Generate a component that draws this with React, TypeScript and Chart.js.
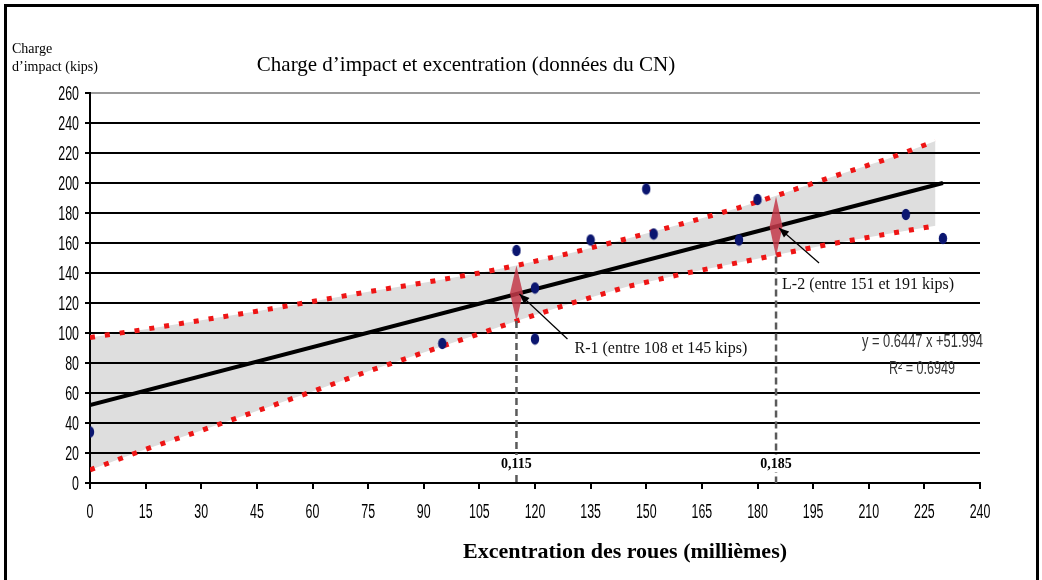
import { useEffect, useRef } from 'react';
import { Chart, registerables } from 'chart.js';

Chart.register(...registerables);

// ---- data ----
const pointsX = [0, 95, 115, 120, 120, 135, 150, 152, 175, 180, 220, 230];
const pointsY = [34, 93, 155, 130, 96, 162, 196, 166, 162, 189, 179, 163];

const trendX = [0, 230];
const trendY = [52, 200];

const bandX = [0, 15, 30, 45, 60, 75, 90, 105, 115, 130, 145, 160, 175, 185, 200, 215, 228];
const bandUpper = [97, 102.5, 108.5, 114.5, 121, 127.5, 133.5, 140, 145, 153.5, 163, 173, 183.5, 191.5, 204, 216, 228];
const bandLower = [8.7, 22.5, 35, 48, 61, 74.5, 87, 99.5, 108, 120, 131, 139.5, 147, 152, 159.5, 166, 171.5];

const markX = [115, 185];
const markLow = [108, 151];
const markHigh = [145, 191];
const markMid = [126, 170];
const markLabels = ['0,115', '0,185'];
const markNotes = ['R-1 (entre 108 et 145 kips)', 'L-2 (entre 151 et 191 kips)'];

const xTicks = [0, 15, 30, 45, 60, 75, 90, 105, 120, 135, 150, 165, 180, 195, 210, 225, 240];
const yTicks = [0, 20, 40, 60, 80, 100, 120, 140, 160, 180, 200, 220, 240, 260];

const titleText = 'Charge d\u2019impact et excentration (donn\u00e9es du CN)';
const yTitleLines = ['Charge', 'd\u2019impact (kips)'];
const xTitleText = 'Excentration des roues (milli\u00e8mes)';
const eqText = 'y = 0.6447 x +51.994';
const r2Text = 'R\u00b2 = 0.6949';

const SERIF = '"Liberation Serif", "Times New Roman", serif';
const SANS = '"Liberation Sans", Arial, sans-serif';

export default function App() {
  const ref = useRef<HTMLCanvasElement>(null);

  useEffect(() => {
    const canvas = ref.current;
    if (!canvas) return;

    const dot = document.createElement('canvas');
    dot.width = 10;
    dot.height = 13;
    const dc = dot.getContext('2d')!;
    dc.fillStyle = '#0b1670';
    dc.beginPath();
    dc.ellipse(5, 6.5, 4.2, 5.8, 0, 0, Math.PI * 2);
    dc.fill();

    const noteOffsets = [
      { tail: [48, 45], text: [55, 55] },
      { tail: [40, 35], text: [3, 57] },
    ];

    const narrowText = (
      ctx: CanvasRenderingContext2D,
      text: string,
      x: number,
      y: number,
      align: CanvasTextAlign,
      sx: number,
    ) => {
      ctx.save();
      ctx.translate(x, y);
      ctx.scale(sx, 1);
      ctx.textAlign = align;
      ctx.textBaseline = 'middle';
      ctx.fillText(text, 0, 0);
      ctx.restore();
    };

    const fitText = (
      ctx: CanvasRenderingContext2D,
      text: string,
      x: number,
      y: number,
      align: CanvasTextAlign,
      width: number,
    ) => {
      const w = ctx.measureText(text).width;
      narrowText(ctx, text, x, y, align, width / w);
    };

    const overlay = {
      id: 'overlay',
      afterDatasetsDraw(chart: any) {
        const ctx = chart.ctx as CanvasRenderingContext2D;
        const xs = chart.scales.x;
        const ys = chart.scales.y;
        const y0 = ys.getPixelForValue(0);
        markX.forEach((mx, i) => {
          const px = xs.getPixelForValue(mx);
          const yLow = ys.getPixelForValue(markLow[i]);
          const yHigh = ys.getPixelForValue(markHigh[i]);
          // dashed vertical
          ctx.save();
          ctx.strokeStyle = '#5a5a5a';
          ctx.lineWidth = 2.5;
          ctx.setLineDash([7, 4]);
          ctx.beginPath();
          ctx.moveTo(px, yLow);
          ctx.lineTo(px, y0);
          ctx.stroke();
          ctx.restore();
          // label with white box
          ctx.save();
          ctx.font = 'bold 14px ' + SERIF;
          const w = ctx.measureText(markLabels[i]).width;
          const ly = y0 - 20;
          ctx.fillStyle = '#ffffff';
          ctx.fillRect(px - w / 2 - 4, ly - 8, w + 8, 17);
          ctx.fillStyle = '#000';
          ctx.textAlign = 'center';
          ctx.textBaseline = 'middle';
          ctx.fillText(markLabels[i], px, ly + 1);
          ctx.restore();
          // diamond
          ctx.save();
          ctx.fillStyle = 'rgba(196, 58, 74, 0.85)';
          const mid = (yLow + yHigh) / 2;
          ctx.beginPath();
          ctx.moveTo(px, yHigh);
          ctx.lineTo(px + 6.5, mid);
          ctx.lineTo(px, yLow);
          ctx.lineTo(px - 6.5, mid);
          ctx.closePath();
          ctx.fill();
          ctx.restore();
          // arrow
          const tipX = px + 3;
          const tipY = ys.getPixelForValue(markMid[i]);
          const off = noteOffsets[i];
          const tailX = tipX + off.tail[0];
          const tailY = tipY + off.tail[1];
          ctx.save();
          ctx.strokeStyle = '#000';
          ctx.fillStyle = '#000';
          ctx.lineWidth = 1.2;
          ctx.beginPath();
          ctx.moveTo(tailX, tailY);
          ctx.lineTo(tipX, tipY);
          ctx.stroke();
          const ang = Math.atan2(tipY - tailY, tipX - tailX);
          const L = 10;
          const H = 4;
          ctx.beginPath();
          ctx.moveTo(tipX, tipY);
          ctx.lineTo(tipX - L * Math.cos(ang) + H * Math.sin(ang), tipY - L * Math.sin(ang) - H * Math.cos(ang));
          ctx.lineTo(tipX - L * Math.cos(ang) - H * Math.sin(ang), tipY - L * Math.sin(ang) + H * Math.cos(ang));
          ctx.closePath();
          ctx.fill();
          // note text
          ctx.font = '16px ' + SERIF;
          ctx.textAlign = 'left';
          ctx.textBaseline = 'middle';
          ctx.fillStyle = '#111';
          ctx.fillText(markNotes[i], tipX + off.text[0], tipY + off.text[1]);
          ctx.restore();
        });
      },
      afterDraw(chart: any) {
        const ctx = chart.ctx as CanvasRenderingContext2D;
        const area = chart.chartArea;
        const xs = chart.scales.x;
        const ys = chart.scales.y;
        ctx.save();
        // tick labels (condensed)
        ctx.fillStyle = '#000';
        ctx.font = '20px ' + SANS;
        yTicks.forEach((v) => {
          narrowText(ctx, String(v), 79, ys.getPixelForValue(v) + 1, 'right', 0.62);
        });
        xTicks.forEach((v) => {
          narrowText(ctx, String(v), xs.getPixelForValue(v), 512, 'center', 0.62);
        });
        // frame
        ctx.fillRect(4, 4, 3, 576);
        ctx.fillRect(4, 4, 1035, 3);
        ctx.fillRect(1036, 4, 3, 576);
        // title
        ctx.font = '21px ' + SERIF;
        ctx.textAlign = 'center';
        ctx.textBaseline = 'alphabetic';
        ctx.fillText(titleText, 466, 71);
        // y title
        ctx.font = '14px ' + SERIF;
        ctx.textAlign = 'left';
        ctx.fillText(yTitleLines[0], 12, 53);
        ctx.fillText(yTitleLines[1], 12, 71);
        // x title
        ctx.font = 'bold 22px ' + SERIF;
        ctx.textAlign = 'center';
        ctx.fillText(xTitleText, 625, 558);
        // equation
        ctx.fillStyle = '#333';
        ctx.font = '18px ' + SANS;
        fitText(ctx, eqText, area.right + 3, 342, 'right', 121);
        fitText(ctx, r2Text, 922, 369, 'center', 66);
        ctx.restore();
      },
    };

    const chart = new Chart(canvas, {
      type: 'scatter',
      data: {
        datasets: [
          {
            label: 'Donn\u00e9es',
            data: pointsX.map((x, i) => ({ x, y: pointsY[i] })),
            pointStyle: dot as any,
            pointRadius: 5,
            showLine: false,
            order: 0,
          },
          {
            label: 'Tendance',
            data: trendX.map((x, i) => ({ x, y: trendY[i] })),
            showLine: true,
            borderColor: '#000',
            borderWidth: 4,
            pointRadius: 0,
            order: 1,
          },
          {
            label: 'Borne sup\u00e9rieure',
            data: bandX.map((x, i) => ({ x, y: bandUpper[i] })),
            showLine: true,
            borderColor: '#ee1515',
            borderWidth: 5,
            borderDash: [5, 10],
            borderCapStyle: 'butt',
            pointRadius: 0,
            fill: '+1',
            backgroundColor: '#dedede',
            order: 2,
          },
          {
            label: 'Borne inf\u00e9rieure',
            data: bandX.map((x, i) => ({ x, y: bandLower[i] })),
            showLine: true,
            borderColor: '#ee1515',
            borderWidth: 5,
            borderDash: [5, 10],
            borderCapStyle: 'butt',
            pointRadius: 0,
            fill: false,
            order: 3,
          },
        ],
      } as any,
      options: {
        animation: false,
        responsive: false,
        maintainAspectRatio: false,
        devicePixelRatio: 1,
        layout: { padding: { left: 0, top: 93, right: 62, bottom: 57 } },
        plugins: {
          legend: { display: false },
          tooltip: { enabled: false },
          filler: { drawTime: 'beforeDraw' },
        } as any,
        scales: {
          x: {
            type: 'linear',
            min: 0,
            max: 240,
            afterBuildTicks: (s: any) => {
              s.ticks = xTicks.map((v) => ({ value: v }));
            },
            afterFit: (s: any) => {
              s.height = 40;
            },
            ticks: { display: false, autoSkip: false },
            grid: {
              drawOnChartArea: false,
              drawTicks: true,
              tickLength: 6,
              color: '#000',
              lineWidth: 2,
            },
            border: { color: '#000', width: 2 },
          },
          y: {
            type: 'linear',
            min: 0,
            max: 260,
            afterBuildTicks: (s: any) => {
              s.ticks = yTicks.map((v) => ({ value: v }));
            },
            afterFit: (s: any) => {
              s.width = 90;
            },
            ticks: { display: false, autoSkip: false },
            grid: {
              drawOnChartArea: true,
              drawTicks: true,
              tickLength: 5,
              color: (c: any) => (c.tick && c.tick.value === 260 ? '#9a9a9a' : '#000'),
              tickColor: '#000',
              lineWidth: 2,
            },
            border: { color: '#000', width: 2 },
          },
        },
      },
      plugins: [overlay],
    } as any);

    return () => chart.destroy();
  }, []);

  return (
    <div style={{ position: 'fixed', left: 0, top: 0, width: 1042, height: 580, background: '#fff' }}>
      <canvas ref={ref} width={1042} height={580} style={{ display: 'block', width: 1042, height: 580 }} />
    </div>
  );
}
